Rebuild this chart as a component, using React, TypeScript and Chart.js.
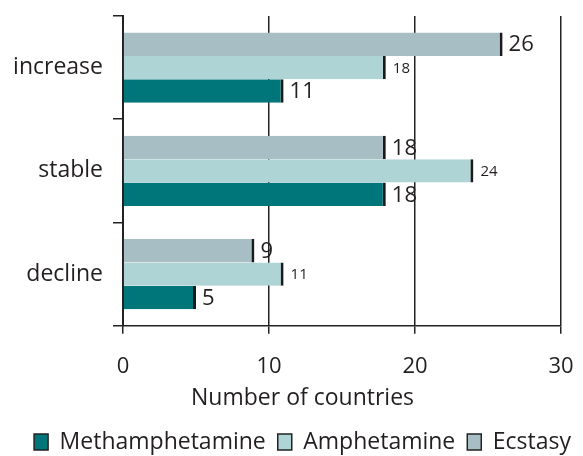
import React, { useEffect, useRef } from "react";
import { Chart, registerables } from "chart.js";

Chart.register(...registerables);

const categories = ["increase", "stable", "decline"];
const methamphetamine = [11, 18, 5];
const amphetamine = [18, 24, 11];
const ecstasy = [26, 18, 9];
const xTickValues = [0, 10, 20, 30];
const axisTitle = "Number of countries";

const FONT = "'Open Sans', 'Noto Sans', sans-serif";
const TEXT = "#231f20";

const valueLabels = {
  id: "valueLabels",
  afterDatasetsDraw(chart: any) {
    const ctx = chart.ctx;
    ctx.save();
    ctx.fillStyle = TEXT;
    ctx.textBaseline = "middle";
    ctx.textAlign = "left";
    chart.data.datasets.forEach((ds: any, di: number) => {
      const meta = chart.getDatasetMeta(di);
      const small = ds.label === "Amphetamine";
      ctx.font = `${small ? 15 : 22}px ${FONT}`;
      meta.data.forEach((bar: any, i: number) => {
        ctx.fillText(String(ds.data[i]), bar.x + (small ? 7 : 6), bar.y + 1);
      });
    });
    ctx.restore();
  },
};

// x-axis title, centred under the legend row (as in the reference figure)
const axisTitlePlugin = {
  id: "axisTitlePlugin",
  afterDraw(chart: any) {
    const ctx = chart.ctx;
    const xs = chart.scales.x;
    const hb = chart.legend && chart.legend.legendHitBoxes;
    let cx = (xs.left + xs.right) / 2;
    if (hb && hb.length) {
      const l = Math.min(...hb.map((h: any) => h.left));
      const r = Math.max(...hb.map((h: any) => h.left + h.width));
      cx = (l + r) / 2;
    }
    ctx.save();
    ctx.fillStyle = TEXT;
    ctx.font = `23px ${FONT}`;
    ctx.textAlign = "center";
    ctx.textBaseline = "middle";
    ctx.fillText(axisTitle, cx, xs.bottom - 20.5);
    ctx.restore();
  },
};

export default function App() {
  const ref = useRef<HTMLCanvasElement>(null);
  useEffect(() => {
    if (!ref.current) return;
    const border = { left: 0, top: 0, bottom: 0, right: 3 };
    const chart = new Chart(ref.current, {
      type: "bar",
      data: {
        labels: categories,
        datasets: [
          { label: "Ecstasy", data: ecstasy, backgroundColor: "#a7bec4", borderColor: "#1a1a1a", borderWidth: border, borderSkipped: false },
          { label: "Amphetamine", data: amphetamine, backgroundColor: "#aed4d5", borderColor: "#1a1a1a", borderWidth: border, borderSkipped: false },
          { label: "Methamphetamine", data: methamphetamine, backgroundColor: "#00767b", borderColor: "#1a1a1a", borderWidth: border, borderSkipped: false },
        ],
      },
      options: {
        indexAxis: "y",
        responsive: false,
        animation: false,
        datasets: { bar: { categoryPercentage: 0.68, barPercentage: 1 } },
        layout: { padding: { top: 16, right: 0, left: 0, bottom: -7.5 } },
        plugins: {
          tooltip: { enabled: false },
          legend: {
            position: "bottom",
            align: "end",
            reverse: true,
            labels: {
              color: TEXT,
              font: { family: FONT, size: 23 },
              boxWidth: 14,
              boxHeight: 16,
              padding: 12,
              generateLabels(c: any) {
                const items = Chart.defaults.plugins.legend.labels.generateLabels(c);
                return items.map((it: any) => ({ ...it, lineWidth: 1.5, strokeStyle: "#222" }));
              },
            },
          },
        },
        scales: {
          x: {
            min: 0,
            max: 30,
            afterBuildTicks(scale: any) {
              scale.ticks = xTickValues.map((v) => ({ value: v }));
            },
            afterFit(scale: any) {
              scale.height = 92.8;
              scale.paddingLeft = 0;
              scale.paddingRight = 22;
            },
            grid: { color: "#222", lineWidth: 1.5, tickLength: 8, drawOnChartArea: true },
            border: { color: "#222", width: 1.5 },
            ticks: { color: TEXT, font: { family: FONT, size: 22 }, padding: 19.5, maxRotation: 0 },
            title: { display: false, text: axisTitle },
          },
          y: {
            afterFit(scale: any) {
              scale.width = 123;
              scale.paddingTop = 0;
              scale.paddingBottom = 0;
            },
            grid: { color: "#222", lineWidth: 1.5, tickLength: 10, drawOnChartArea: false, offset: true },
            border: { color: "#222", width: 2 },
            ticks: { color: TEXT, font: { family: FONT, size: 23 }, padding: 10 },
          },
        },
      },
      plugins: [valueLabels, axisTitlePlugin],
    });
    return () => chart.destroy();
  }, []);
  return (
    <div style={{ position: "fixed", left: 0, top: 0, width: 583, height: 456, background: "#fff" }}>
      <canvas ref={ref} width={583} height={456} />
    </div>
  );
}
